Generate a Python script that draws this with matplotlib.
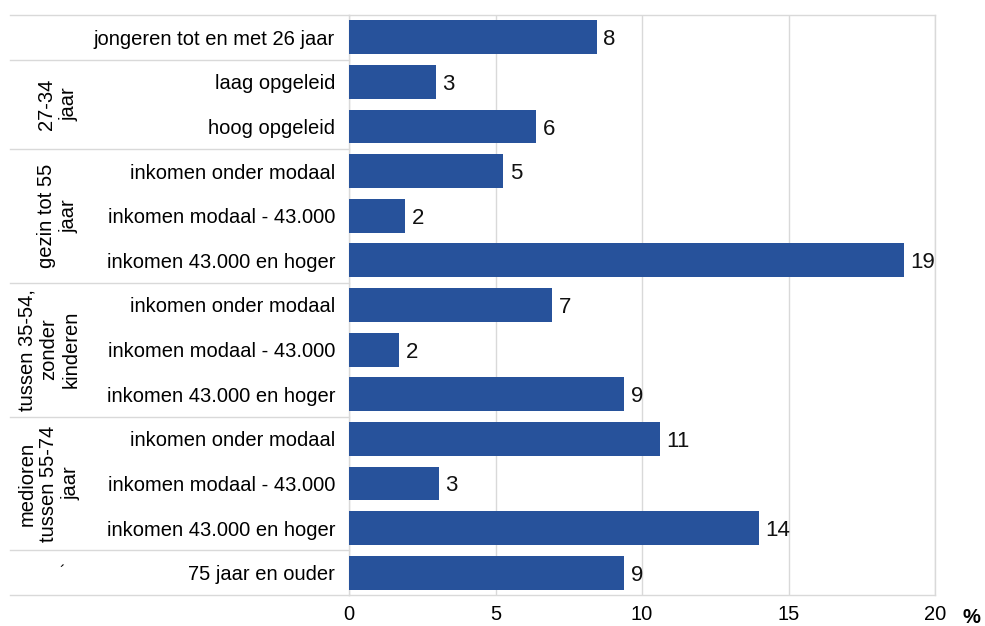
import numpy as np
import matplotlib.pyplot as plt

plt.rcParams['font.family'] = ['Liberation Sans', 'DejaVu Sans']

# rows from top to bottom
labels = ['jongeren tot en met 26 jaar',
          'laag opgeleid', 'hoog opgeleid',
          'inkomen onder modaal', 'inkomen modaal - 43.000', 'inkomen 43.000 en hoger',
          'inkomen onder modaal', 'inkomen modaal - 43.000', 'inkomen 43.000 en hoger',
          'inkomen onder modaal', 'inkomen modaal - 43.000', 'inkomen 43.000 en hoger',
          '75 jaar en ouder']
values = [8.46, 2.97, 6.38, 5.26, 1.91, 18.94, 6.93, 1.71, 9.39, 10.61, 3.07, 13.99, 9.39]

# group name, first row, last row
groups = [('27-34\njaar', 1, 2),
          ('gezin tot 55\njaar', 3, 5),
          ('tussen 35-54,\nzonder\nkinderen', 6, 8),
          ('medioren\ntussen 55-74\njaar', 9, 11)]
group_edges = [-0.5, 0.5, 2.5, 5.5, 8.5, 11.5, 12.5]

bar_color = '#27529b'
grid_color = '#d9d9d9'

fig = plt.figure(figsize=(9.85, 6.26), dpi=100)
W, H = 985, 626
ax_w = 935 - 349
ax = fig.add_axes([349 / W, 1 - 595 / H, ax_w / W, (595 - 15) / H])

y = np.arange(len(values))
ax.barh(y, values, height=0.76, color=bar_color, zorder=3)
for yi, v in zip(y, values):
    ax.text(v + 0.22, yi, f'{v:.0f}', va='center_baseline', ha='left', fontsize=16, color='#111111')

ax.set_ylim(12.5, -0.5)
ax.set_xlim(0, 20)
ax.set_xticks([0, 5, 10, 15, 20])
ax.set_xticklabels(['0', '5', '10', '15', '20'])
ax.xaxis.grid(True, color=grid_color, linewidth=1, zorder=0)
ax.tick_params(axis='x', length=0, pad=7, labelsize=14.5)
ax.set_yticks(y)
ax.set_yticklabels(labels, fontsize=14.5)
ax.tick_params(axis='y', length=0, pad=10)
for s in ax.spines.values():
    s.set_color(grid_color)
    s.set_linewidth(1)

# separator lines through the label area
x_left = (10 - 349) / ax_w
tr = ax.get_yaxis_transform()
for e in group_edges:
    ax.plot([x_left, 0], [e, e], transform=tr, color=grid_color, lw=1, clip_on=False)

for name, a, b in groups:
    n_lines = name.count('\n') + 1
    x_px = 58 if n_lines == 2 else 49
    ax.text((x_px - 349) / ax_w, (a + b) / 2, name, transform=tr, rotation=90,
            ha='center', va='center', fontsize=14.5, multialignment='center',
            linespacing=1.22)
ax.text((62 - 349) / ax_w, 12, '\u00b4', transform=tr, ha='center', va='center', fontsize=12)

ax.text(1.063, -0.038, '%', transform=ax.transAxes, ha='center', va='center',
        fontsize=14.5, fontweight='bold')

fig.savefig('out.png', dpi=100)
